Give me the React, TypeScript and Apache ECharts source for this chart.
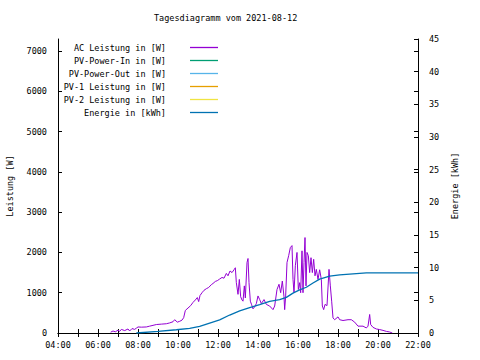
import React, { useEffect, useRef } from "react";
import * as echarts from "echarts";

const titleText = "Tagesdiagramm vom 2021-08-12";
const seriesNames = [
  "AC Leistung in [W]",
  "PV-Power-In in [W]",
  "PV-Power-Out in [W]",
  "PV-1 Leistung in [W]",
  "PV-2 Leistung in [W]",
  "Energie in [kWh]",
];
const seriesColors = ["#9400d3", "#009e73", "#56b4e9", "#e69f00", "#f0e442", "#0072b2"];

const acTimes = [
  "06:38", "06:45", "06:52", "07:00", "07:05", "07:10", "07:20", "07:30", "07:35", "07:42",
  "07:50", "07:55", "08:00", "08:10", "08:25", "08:35", "08:45", "08:55", "09:10", "09:25",
  "09:35", "09:45", "09:50", "09:58", "10:05", "10:12", "10:17", "10:22", "10:30", "10:38",
  "10:45", "10:52", "10:58", "11:02", "11:06", "11:12", "11:18", "11:25", "11:32", "11:40",
  "11:45", "11:52", "11:58", "12:05", "12:12", "12:18", "12:25", "12:30", "12:36", "12:42",
  "12:48", "12:52", "12:55", "13:00", "13:04", "13:08", "13:12", "13:15", "13:19", "13:22",
  "13:27", "13:30", "13:33", "13:37", "13:41", "13:45", "13:50", "13:55", "14:00", "14:05",
  "14:10", "14:18", "14:25", "14:35", "14:45", "14:50", "14:57", "15:03", "15:08", "15:13",
  "15:18", "15:20", "15:23", "15:27", "15:32", "15:37", "15:42", "15:45", "15:48", "15:52",
  "15:57", "16:01", "16:05", "16:08", "16:12", "16:15", "16:18", "16:21", "16:24", "16:27",
  "16:31", "16:35", "16:39", "16:43", "16:47", "16:51", "16:55", "17:00", "17:05", "17:10",
  "17:13", "17:17", "17:21", "17:27", "17:33", "17:37", "17:41", "17:45", "17:50", "18:00",
  "18:05", "18:15", "18:30", "18:40", "18:50", "19:00", "19:15", "19:25", "19:30", "19:35",
  "19:38", "19:45", "19:55", "20:05", "20:15", "20:25", "20:35", "20:43",
];
const acValues = [
  20, 50, 30, 70, 40, 90, 60, 100, 50, 110,
  90, 120, 150, 145, 150, 170, 190, 210, 220, 230,
  250, 280, 330, 270, 290, 320, 380, 560, 620, 680,
  760, 820, 880, 780, 930, 1000, 1060, 1100, 1130, 1200,
  1230, 1280, 1300, 1340, 1380, 1360, 1480, 1420, 1540, 1500,
  1570, 1620, 1250, 960, 1330, 900, 820, 790, 1170, 870,
  1750, 1850, 1250, 790, 700, 600, 650, 730, 920, 830,
  730, 830, 710, 670, 580, 670, 1080, 1210, 1000, 1290,
  900, 580, 920, 1750, 1920, 2120, 2170, 1330, 1000, 1670,
  2000, 1080, 1250, 1000, 2040, 1000, 1750, 2370, 1170, 2000,
  1920, 1500, 1870, 1500, 1830, 1420, 1580, 1330, 1570, 1330,
  670, 580, 710, 680, 1580, 1170, 790, 375, 330, 400,
  330, 310, 330, 330, 270, 170, 170, 125, 170, 460,
  210, 140, 100, 85, 65, 40, 25, 0,
];

const energyTimes = [
  "07:55", "09:00", "09:55", "10:35", "11:05", "11:35", "12:05", "12:35", "13:05", "13:35",
  "14:05", "14:35", "15:05", "15:25", "15:45", "16:05", "16:25", "16:45", "17:05", "17:35",
  "18:05", "18:45", "19:25", "22:00",
];
const energyValues = [
  0, 0.25, 0.5, 0.7, 1.0, 1.5, 2.0, 2.75, 3.4, 3.9,
  4.35, 4.85, 5.1, 5.45, 6.1, 6.6, 7.0, 7.65, 8.25, 8.7,
  8.9, 9.05, 9.2, 9.2,
];

const pvInValues: number[][] = [];
const pvOutValues: number[][] = [];
const pv1Values: number[][] = [];
const pv2Values: number[][] = [];

const font = "DejaVu Sans Mono";
const fs = 8.5;

const toHours = (s: string) => {
  const [h, m] = s.split(":").map(Number);
  return h + m / 60;
};
const pad = (n: number) => (n < 10 ? "0" + n : "" + n);

export default function App() {
  const ref = useRef<HTMLDivElement>(null);
  useEffect(() => {
    if (!ref.current) return;
    document.body.style.margin = "0";
    const chart = echarts.init(ref.current, null, { renderer: "svg" });
    const acData = acTimes.map((t, i) => [toHours(t), acValues[i]]);
    const energyData = energyTimes.map((t, i) => [toHours(t), energyValues[i]]);
    const allData = [acData, pvInValues, pvOutValues, pv1Values, pv2Values, energyData];
    const textStyle = { fontFamily: font, fontSize: fs, color: "#000" };
    const legendTops = [43, 56, 69, 82, 95, 108];

    const xCommon = {
      type: "value" as const,
      min: 4,
      max: 22,
      interval: 1,
      splitLine: { show: false },
      axisLine: { show: true, lineStyle: { color: "#000", width: 1 } },
      axisTick: { show: true, inside: true, length: 4, lineStyle: { color: "#000" } },
    };
    const plain = (v: number) => String(v);

    chart.setOption({
      animation: false,
      backgroundColor: "#fff",
      title: {
        text: titleText,
        left: 154,
        top: 13,
        padding: 0,
        textStyle: { ...textStyle, fontWeight: "normal" },
      },
      legend: seriesNames.map((n, i) => ({
        data: [n],
        right: 262,
        top: legendTops[i],
        padding: 0,
        align: "right",
        orient: "vertical",
        icon: "rect",
        itemWidth: 28,
        itemHeight: 1.3,
        selectedMode: false,
        textStyle: { ...textStyle, padding: [0, 19, 0, 0] },
      })),
      grid: {
        left: 58,
        right: 62,
        top: 39,
        bottom: 27,
        containLabel: false,
        outerBoundsMode: "none",
      },
      xAxis: [
        {
          ...xCommon,
          position: "bottom",
          axisLabel: {
            ...textStyle,
            margin: 7,
            formatter: (v: number) => (v % 2 === 0 ? pad(v) + ":00" : ""),
          },
        },
        {
          ...xCommon,
          position: "top",
          axisLabel: { show: false },
        },
      ],
      yAxis: [
        {
          type: "value",
          position: "left",
          min: 0,
          max: 7300,
          interval: 1000,
          name: "Leistung [W]",
          nameLocation: "middle",
          nameGap: 44,
          nameTextStyle: textStyle,
          splitLine: { show: false },
          axisLine: { show: true, lineStyle: { color: "#000" } },
          axisTick: { show: true, inside: true, length: 4, lineStyle: { color: "#000" } },
          axisLabel: { ...textStyle, margin: 11, showMaxLabel: false, formatter: plain },
        },
        {
          type: "value",
          position: "right",
          min: 0,
          max: 45,
          interval: 5,
          name: "Energie [kWh]",
          nameLocation: "middle",
          nameGap: 27,
          nameTextStyle: textStyle,
          splitLine: { show: false },
          axisLine: { show: true, lineStyle: { color: "#000" } },
          axisTick: { show: true, inside: true, length: 4, lineStyle: { color: "#000" } },
          axisLabel: { ...textStyle, margin: 11, formatter: plain },
        },
        {
          type: "value",
          position: "right",
          min: 0,
          max: 7300,
          interval: 1000,
          splitLine: { show: false },
          axisLine: { show: false },
          axisTick: { show: true, inside: true, length: 4, lineStyle: { color: "#000" } },
          axisLabel: { show: false },
        },
      ],
      series: seriesNames.map((n, i) => ({
        name: n,
        type: "line",
        xAxisIndex: 0,
        yAxisIndex: i === 5 ? 1 : 0,
        data: allData[i],
        symbol: "none",
        color: seriesColors[i],
        lineStyle: { color: seriesColors[i], width: i === 5 ? 1.3 : 1 },
      })),
    });
    return () => chart.dispose();
  }, []);
  return <div ref={ref} style={{ width: 480, height: 360 }} />;
}
